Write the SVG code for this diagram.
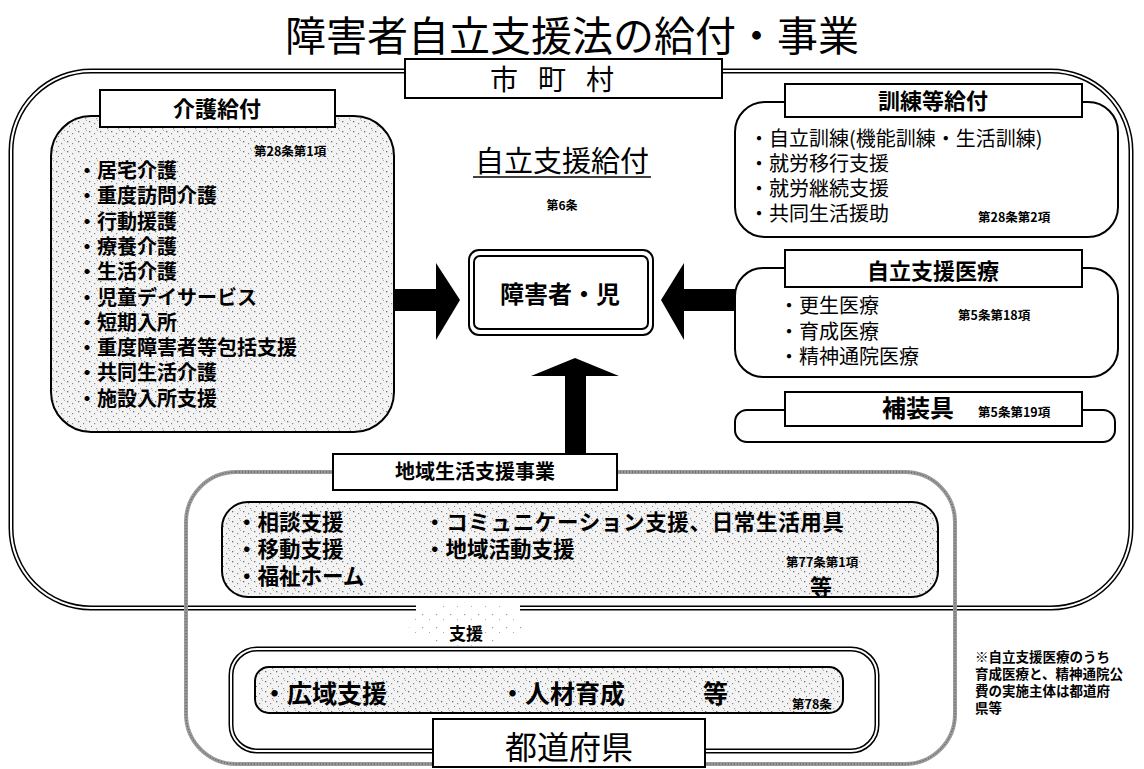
<svg xmlns="http://www.w3.org/2000/svg" width="1144" height="769" viewBox="0 0 1144 769">
<defs>
<style>
.jp{font-family:"Noto Sans CJK JP","Noto Sans CJK SC",sans-serif;fill:#000}
.b{font-weight:700}
.box{stroke:#000;stroke-width:2}
.white{fill:#fff}
.dots{fill:url(#stip)}
.lbl{fill:#fff;stroke:#000;stroke-width:2}
.dbl1{fill:none;stroke:#000;stroke-width:5}
.dbl2{fill:none;stroke:#fff;stroke-width:2}
.arrow{fill:#000}
.art{font-size:12.5px;font-weight:700}
</style>
<pattern id="stip" width="11" height="10" patternUnits="userSpaceOnUse">
<rect width="11" height="10" fill="#f3f3f3"/>
<rect x="1" y="1" width="1.3" height="1.3" fill="#6e6e6e"/>
<rect x="6" y="3" width="1.2" height="1.2" fill="#8a8a8a"/>
<rect x="3" y="6" width="1" height="1" fill="#777"/>
<rect x="8" y="8" width="1.2" height="1.2" fill="#999"/>
<rect x="9" y="0" width="1" height="1" fill="#aaa"/>
</pattern>
<pattern id="stip2" width="14" height="13" patternUnits="userSpaceOnUse">
<rect width="14" height="13" fill="#fff"/>
<rect x="2" y="3" width="1.2" height="1.2" fill="#999"/>
<rect x="9" y="8" width="1" height="1" fill="#aaa"/>
</pattern>
</defs>
<rect width="1144" height="769" fill="#fff"/>

<text class="jp" x="572" y="51" text-anchor="middle" font-size="41">障害者自立支援法の給付・事業</text>

<g id="municipality">
<rect class="dbl1" x="11" y="71" width="1120" height="537" rx="80"/>
<rect class="dbl2" x="11" y="71" width="1120" height="537" rx="80"/>
<rect class="lbl" x="405" y="59" width="317" height="39"/>
<text class="jp" x="562" y="90" text-anchor="middle" font-size="28" letter-spacing="20">市町村</text>
</g>

<g id="community">
<rect x="186" y="472" width="769" height="292" rx="50" fill="none" stroke="#9a9a9a" stroke-width="4"/>
<rect x="186" y="472" width="769" height="292" rx="50" fill="none" stroke="#444" stroke-width="1" stroke-dasharray="1 2"/>
<rect class="box dots" x="222" y="502" width="716" height="95" rx="26"/>
<rect class="lbl" x="333" y="454" width="284" height="36"/>
<text class="jp b" x="475" y="479" text-anchor="middle" font-size="20">地域生活支援事業</text>
<text class="jp b" x="236" y="530" font-size="21.5">・相談支援</text>
<text class="jp b" x="236" y="557" font-size="21.5">・移動支援</text>
<text class="jp b" x="236" y="584" font-size="21.5">・福祉ホーム</text>
<text class="jp b" x="424" y="530" font-size="21.5" textLength="420">・コミュニケーション支援、日常生活用具</text>
<text class="jp b" x="424" y="557" font-size="21.5">・地域活動支援</text>
<text class="jp art" x="786" y="567">第77条第1項</text>
<text class="jp b" x="810" y="595" font-size="22">等</text>
</g>

<g id="support">
<rect x="416" y="600" width="104" height="14" fill="#fff"/>
<ellipse cx="466" cy="624" rx="58" ry="22" fill="url(#stip2)"/>
<text class="jp b" x="466" y="640" text-anchor="middle" font-size="17">支援</text>
</g>

<g id="prefecture">
<rect class="dbl1" x="231" y="649" width="646" height="102" rx="26"/>
<rect class="dbl2" x="231" y="649" width="646" height="102" rx="26"/>
<rect class="box dots" x="255" y="667" width="588" height="46" rx="14"/>
<text class="jp b" x="262" y="703" font-size="25">・広域支援</text>
<text class="jp b" x="500" y="703" font-size="25">・人材育成</text>
<text class="jp b" x="703" y="703" font-size="25">等</text>
<text class="jp art" x="792" y="709">第78条</text>
<rect class="lbl" x="433" y="719" width="272" height="48"/>
<text class="jp" x="569" y="759" text-anchor="middle" font-size="32">都道府県</text>
</g>

<g id="care">
<rect class="box dots" x="51" y="116" width="343" height="316" rx="40"/>
<rect class="lbl" x="100" y="90" width="235" height="37"/>
<text class="jp b" x="217" y="117" text-anchor="middle" font-size="22">介護給付</text>
<text class="jp art" x="254" y="156">第28条第1項</text>
<g class="jp b" font-size="20">
<text x="77" y="178">・居宅介護</text>
<text x="77" y="203">・重度訪問介護</text>
<text x="77" y="229">・行動援護</text>
<text x="77" y="254">・療養介護</text>
<text x="77" y="279">・生活介護</text>
<text x="77" y="305">・児童デイサービス</text>
<text x="77" y="330">・短期入所</text>
<text x="77" y="355">・重度障害者等包括支援</text>
<text x="77" y="380">・共同生活介護</text>
<text x="77" y="406">・施設入所支援</text>
</g>
</g>

<g id="training">
<rect class="box white" x="735" y="102" width="383" height="135" rx="30"/>
<rect class="lbl" x="785" y="84" width="297" height="33"/>
<text class="jp b" x="933" y="109" text-anchor="middle" font-size="22">訓練等給付</text>
<g class="jp" font-size="20">
<text x="749" y="146">・自立訓練(機能訓練・生活訓練)</text>
<text x="749" y="171">・就労移行支援</text>
<text x="749" y="196">・就労継続支援</text>
<text x="749" y="221">・共同生活援助</text>
</g>
<text class="jp art" x="978" y="222">第28条第2項</text>
</g>

<g id="medical">
<rect class="box white" x="735" y="268" width="383" height="109" rx="28"/>
<rect class="lbl" x="785" y="250" width="297" height="37"/>
<text class="jp b" x="933" y="279" text-anchor="middle" font-size="22">自立支援医療</text>
<g class="jp" font-size="20">
<text x="779" y="313">・更生医療</text>
<text x="779" y="339">・育成医療</text>
<text x="779" y="364">・精神通院医療</text>
</g>
<text class="jp art" x="958" y="320">第5条第18項</text>
</g>

<g id="devices">
<rect class="box white" x="735" y="410" width="380" height="32" rx="12"/>
<rect class="lbl" x="785" y="392" width="297" height="34"/>
<text class="jp b" x="918" y="417" text-anchor="middle" font-size="24">補装具</text>
<text class="jp art" x="978" y="417">第5条第19項</text>
</g>

<g id="center">
<text class="jp" x="562" y="172" text-anchor="middle" font-size="29">自立支援給付</text>
<line x1="473" y1="177" x2="651" y2="177" stroke="#000" stroke-width="1.5"/>
<text class="jp b" x="562" y="210" text-anchor="middle" font-size="12">第6条</text>
</g>

<g id="person">
<rect x="469" y="250" width="184" height="85" rx="10" fill="#fff" stroke="#000" stroke-width="2"/>
<rect x="474" y="256" width="174" height="73" rx="6" fill="none" stroke="#000" stroke-width="2"/>
<text class="jp b" x="560" y="303" text-anchor="middle" font-size="24">障害者・児</text>
</g>

<g id="connectors">
<polygon class="arrow" points="395,289 436,289 436,263 460,300 436,340 436,311 395,311"/>
<polygon class="arrow" points="735,289 684,289 684,263 661,300 684,340 684,311 735,311"/>
<polygon class="arrow" points="565,453 565,376 531,376 575,358 619,376 586,376 586,453"/>
</g>

<g id="note" class="jp b" font-size="13.5">
<text x="975" y="662">※自立支援医療のうち</text>
<text x="975" y="679">育成医療と、精神通院公</text>
<text x="975" y="696">費の実施主体は都道府</text>
<text x="975" y="713">県等</text>
</g>
</svg>
